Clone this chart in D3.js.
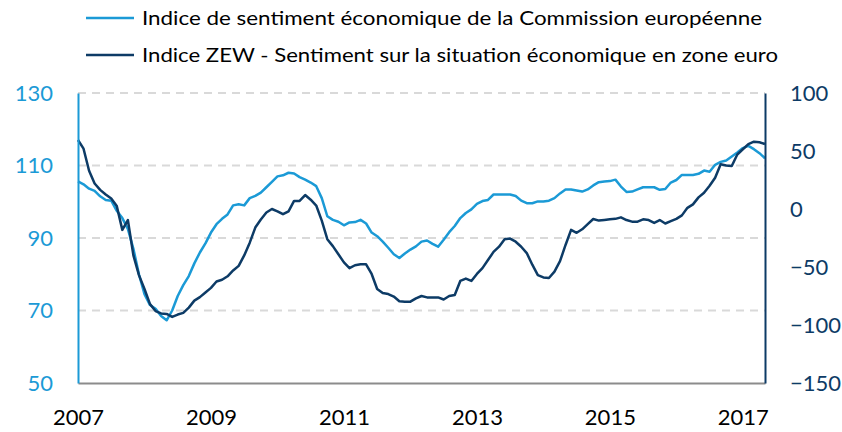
<!DOCTYPE html>
<html>
<head>
<meta charset="utf-8">
<script src="https://cdn.jsdelivr.net/npm/d3@7"></script>
<style>
  body { margin: 0; background: #fff; }
  text { font-family: Lato, "Open Sans", sans-serif; }
</style>
</head>
<body>
<svg id="chart" width="842" height="432"></svg>
<script>
// Indice ESI (Commission européenne), mensuel, janv. 2007 -> mai 2017 (axe gauche)
const esi = [
  105.6, 104.8, 103.6, 103.0, 101.5, 100.5, 100.3, 97.5, 95.5, 92.5, 87.0, 80.0,
  74.5, 71.5, 70.5, 68.5, 67.3, 70.0, 74.0, 77.0, 79.5, 83.0, 86.0, 88.5,
  91.5, 93.8, 95.3, 96.5, 99.0, 99.3, 99.0, 101.0, 101.6, 102.5, 104.0, 105.5,
  107.0, 107.3, 108.0, 107.8, 106.8, 106.1, 105.3, 104.3, 101.0, 96.0, 95.0, 94.5,
  93.5, 94.3, 94.4, 95.0, 94.0, 91.5, 90.5, 89.0, 87.3, 85.5, 84.5, 85.7,
  86.8, 87.7, 89.0, 89.3, 88.4, 87.6, 89.5, 91.6, 93.3, 95.5, 96.9, 97.9,
  99.4, 100.2, 100.5, 102.0, 102.0, 102.0, 102.0, 101.6, 100.3, 99.6, 99.6, 100.1,
  100.1, 100.3, 101.0, 102.3, 103.4, 103.4, 103.1, 102.8, 103.4, 104.5, 105.4, 105.6,
  105.7, 106.1, 104.2, 102.7, 102.8, 103.4, 104.0, 104.0, 104.0, 103.3, 103.5, 105.3,
  106.0, 107.4, 107.4, 107.4, 107.7, 108.6, 108.3, 110.2, 111.0, 111.4, 112.5, 113.6,
  114.8, 115.4, 114.5, 113.4, 112.0
];

// Indice ZEW zone euro (axe droit)
const zew = [
  59.5, 52, 33, 22, 16.5, 12.5, 9, 2.5, -18, -9.5, -40, -57,
  -69, -82, -88, -90, -90.5, -93, -91, -89.5, -85, -79, -76, -72,
  -68, -62.5, -61, -58, -53, -49, -40, -29, -16, -9, -3, 0,
  -2, -4.5, -2, 7, 7, 12, 8, 3, -10, -26, -32, -39,
  -46, -51, -48.5, -47.7, -47.7, -56, -69, -72.5, -73.3, -75.5, -79.5, -79.9,
  -79.9, -77, -75, -76.2, -76.2, -76.2, -78, -75, -74.1, -62, -60, -62,
  -56, -51, -44, -37, -32.5, -26, -25.5, -28.2, -32.5, -38, -48, -57,
  -59, -59.5, -54, -45, -31, -18, -20.5, -17.5, -13, -8.6, -10, -9.5,
  -8.9, -8.5, -7.2, -9.5, -10.9, -10.9, -8.9, -9.5, -12, -9.5, -12.5, -10.5,
  -8.5, -5.5, 1, 4, 10, 14, 20, 27, 38.5, 37.5, 37.1, 47,
  51.5, 56, 58, 57.5, 56
];

const yearLabels = ["2007", "2009", "2011", "2013", "2015", "2017"];
const yearIndex = [0, 24, 48, 72, 96, 120];
const leftTicks = [50, 70, 90, 110, 130];
const rightTicks = [-150, -100, -50, 0, 50, 100];
const gridTicks = [70, 90, 110, 130];
const legendLabels = [
  "Indice de sentiment économique de la Commission européenne",
  "Indice ZEW - Sentiment sur la situation économique en zone euro"
];

const light = "#1b9ad6";
const dark = "#0d3b66";

const svg = d3.select("#chart");

const x = d3.scaleLinear().domain([0, esi.length - 1]).range([78, 765]);
const yL = d3.scaleLinear().domain([50, 130]).range([383, 93]);
const yR = d3.scaleLinear().domain([-150, 100]).range([383, 93]);

// grid lines (left scale)
svg.append("g")
  .selectAll("line")
  .data(gridTicks)
  .join("line")
  .attr("x1", 78)
  .attr("x2", 765)
  .attr("y1", (d) => yL(d))
  .attr("y2", (d) => yL(d))
  .attr("stroke", "#d9d9d9")
  .attr("stroke-width", 2)
  .attr("stroke-dasharray", "8,6");

// bottom axis
const xAxis = svg.append("g")
  .attr("transform", "translate(0,383)")
  .call(d3.axisBottom(x).tickValues(yearIndex)
    .tickFormat((d, i) => yearLabels[i])
    .tickSize(0).tickSizeOuter(0).tickPadding(26));
xAxis.select(".domain").attr("stroke", "#8c8c8c").attr("stroke-width", 2);
xAxis.selectAll("text").attr("font-size", 22).attr("fill", "#000")
  .style("font-family", "Lato, sans-serif");

// lines
const lineL = d3.line().x((d, i) => x(i)).y((d) => yL(d));
const lineR = d3.line().x((d, i) => x(i)).y((d) => yR(d));

svg.append("path").datum(esi)
  .attr("d", lineL)
  .attr("fill", "none")
  .attr("stroke", light)
  .attr("stroke-width", 2.5)
  .attr("stroke-linejoin", "round");

svg.append("path").datum(zew)
  .attr("d", lineR)
  .attr("fill", "none")
  .attr("stroke", dark)
  .attr("stroke-width", 2.5)
  .attr("stroke-linejoin", "round");

// left axis
const leftAxis = svg.append("g")
  .attr("transform", "translate(78,0)")
  .call(d3.axisLeft(yL).tickValues(leftTicks).tickSize(0).tickSizeOuter(0).tickPadding(25));
leftAxis.select(".domain").attr("stroke", light).attr("stroke-width", 2);
leftAxis.selectAll("text").attr("font-size", 22).attr("fill", light)
  .style("font-family", "Lato, sans-serif");

// right axis
const rightAxis = svg.append("g")
  .attr("transform", "translate(765,0)")
  .call(d3.axisRight(yR).tickValues(rightTicks).tickSize(0).tickSizeOuter(0).tickPadding(25));
rightAxis.select(".domain").attr("stroke", dark).attr("stroke-width", 2);
rightAxis.selectAll("text").attr("font-size", 22).attr("fill", dark)
  .style("font-family", "Lato, sans-serif");

// legend
const legendColors = [light, dark];
const legendWidths = [620, 636];
const legend = svg.append("g")
  .selectAll("g")
  .data(legendLabels)
  .join("g")
  .attr("transform", (d, i) => `translate(86,${18 + i * 37})`);

legend.append("line")
  .attr("x1", 0)
  .attr("x2", 48)
  .attr("stroke", (d, i) => legendColors[i])
  .attr("stroke-width", 2.5);

legend.append("text")
  .attr("x", 56)
  .attr("dy", "0.35em")
  .attr("font-size", 20)
  .attr("fill", "#000")
  .attr("textLength", (d, i) => legendWidths[i])
  .attr("lengthAdjust", "spacingAndGlyphs")
  .text((d) => d);
</script>
</body>
</html>
